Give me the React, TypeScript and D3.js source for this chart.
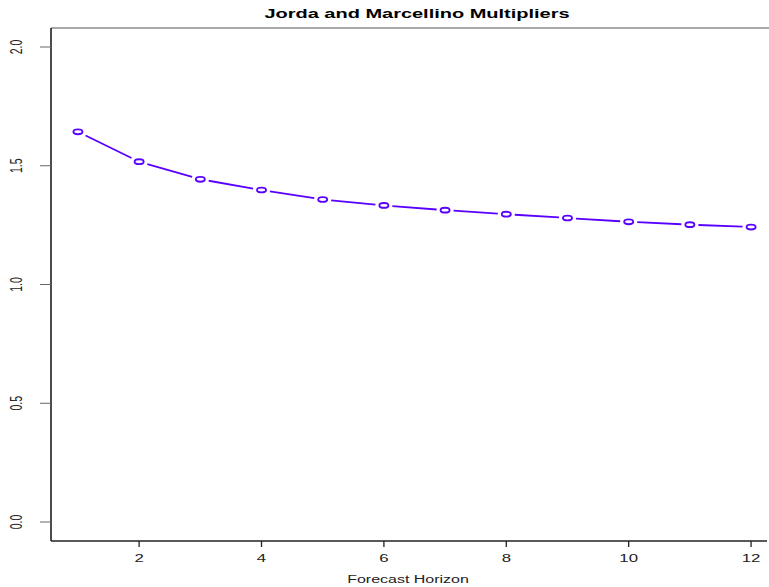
import * as React from "react";
import * as d3 from "d3";

// forecast horizons and multiplier estimates
const horizons = [1, 2, 3, 4, 5, 6, 7, 8, 9, 10, 11, 12];
const multipliers = [1.643, 1.517, 1.443, 1.398, 1.358, 1.333, 1.313, 1.296, 1.280, 1.264, 1.252, 1.242];
const xTicks = [2, 4, 6, 8, 10, 12];
const yTicks = [0, 0.5, 1, 1.5, 2];

const W = 769;
const H = 587;
const SX = 1.6; // the picture is stretched sideways
const COLOR = "#5a00ff";
const FONT = "'Liberation Sans', Arial, Helvetica, sans-serif";

export default function App() {
  const x = d3.scaleLinear().domain([0.56, 12.44]).range([51, 778]);
  const y = d3.scaleLinear().domain([-0.08, 2.08]).range([541, 28]);

  const pts = horizons.map((h, i) => [x(h), y(multipliers[i])]);
  // R type="b": segments stop short of the points
  const gap = 8.5;
  const segs = d3.pairs(pts).map(([a, b]) => {
    const dx = b[0] - a[0];
    const dy = b[1] - a[1];
    const len = Math.sqrt(dx * dx + dy * dy);
    const ux = dx / len;
    const uy = dy / len;
    return [a[0] + ux * gap, a[1] + uy * gap, b[0] - ux * gap, b[1] - uy * gap];
  });

  const fmt = d3.format(".1f");
  const left = x.range()[0];
  const bottom = y.range()[0];
  const top = y.range()[1];

  return (
    <div style={{ position: "fixed", left: 0, top: 0 }}>
      <svg width={W} height={H} style={{ display: "block", background: "#fff" }} fontFamily={FONT}>
        <text
          transform={`translate(417,18) scale(${SX},1)`}
          textAnchor="middle"
          fontWeight="bold"
          fontSize={12.5}
          fill="#000"
        >
          Jorda and Marcellino Multipliers
        </text>

        {/* frame */}
        <line x1={left} y1={top} x2={W} y2={top} stroke="#555" strokeWidth={1.2} />
        <line x1={left} y1={top} x2={left} y2={bottom} stroke="#111" strokeWidth={1.5} />
        <line x1={left} y1={bottom} x2={W - 2} y2={bottom} stroke="#222" strokeWidth={1.3} />

        {/* y axis */}
        {yTicks.map((t) => (
          <g key={"y" + t}>
            <line x1={left - 11} y1={y(t)} x2={left} y2={y(t)} stroke="#666" strokeWidth={1} />
            <text
              transform={`translate(22,${y(t)}) scale(${SX},1) rotate(-90)`}
              textAnchor="middle"
              fontSize={10.5}
              fill="#222"
            >
              {fmt(t)}
            </text>
          </g>
        ))}

        {/* x axis */}
        {xTicks.map((t) => (
          <g key={"x" + t}>
            <line x1={x(t)} y1={bottom} x2={x(t)} y2={bottom + 6} stroke="#222" strokeWidth={1.3} />
            <text
              transform={`translate(${x(t)},562) scale(${SX},1)`}
              textAnchor="middle"
              fontSize={10.5}
              fill="#222"
            >
              {t}
            </text>
          </g>
        ))}
        <text
          transform={`translate(408,583) scale(${SX},1)`}
          textAnchor="middle"
          fontSize={10}
          fill="#222"
        >
          Forecast Horizon
        </text>

        {/* series */}
        {segs.map((s, i) => (
          <line key={"s" + i} x1={s[0]} y1={s[1]} x2={s[2]} y2={s[3]} stroke={COLOR} strokeWidth={1.8} />
        ))}
        {pts.map((p, i) => (
          <ellipse key={"p" + i} cx={p[0]} cy={p[1]} rx={4.5} ry={2.4} fill="none" stroke={COLOR} strokeWidth={1.9} />
        ))}
      </svg>
    </div>
  );
}
